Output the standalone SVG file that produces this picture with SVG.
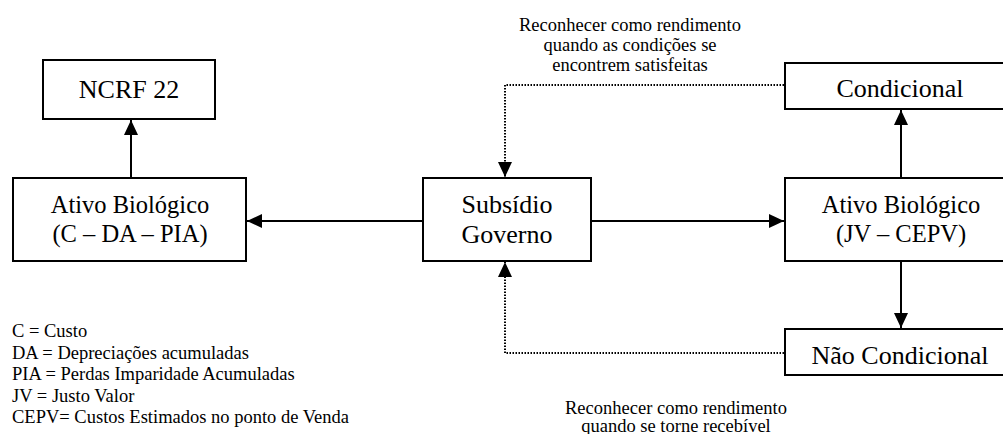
<svg xmlns="http://www.w3.org/2000/svg" width="1003" height="434" viewBox="0 0 1003 434">
<style>
.box{fill:#fff;stroke:#000;stroke-width:2}
text{font-family:'Liberation Serif',Tinos,'Times New Roman',Times,'DejaVu Serif','Noto Serif',serif;fill:#000}
.nt{font-size:26px;text-anchor:middle}
.nt2{font-size:24.5px;text-anchor:middle}
.lbl{font-size:18.5px;text-anchor:middle}
.leg{font-size:18.5px}
.solid{fill:none;stroke:#000;stroke-width:2;marker-end:url(#ah)}
.dot{fill:none;stroke:#000;stroke-width:2;stroke-dasharray:1.5 1.5;marker-end:url(#ah)}
</style>
<defs>
<marker id="ah" markerUnits="userSpaceOnUse" markerWidth="16" markerHeight="14" refX="15" refY="7" orient="auto">
<path d="M0,0 L15,7 L0,14 Z" fill="#000"/>
</marker>
</defs>
<rect width="1003" height="434" fill="#fff"/>
<g id="connectors">
<path class="solid" d="M131,178 V120"/>
<path class="solid" d="M423,221 H247"/>
<path class="solid" d="M591,221 H784"/>
<path class="solid" d="M901,178 V110"/>
<path class="solid" d="M901,261 V328"/>
<path class="dot" d="M784,85 H505 V177"/>
<path class="dot" d="M784,353 H505 V262"/>
</g>
<g id="ncrf22">
<rect class="box" x="43" y="60" width="172" height="59"/>
<text class="nt" x="129" y="98" font-family="Liberation Serif, serif">NCRF 22</text>
</g>
<g id="ativo-c">
<rect class="box" x="13" y="178" width="233" height="83"/>
<text class="nt2" x="130" y="213">Ativo Biológico</text>
<text class="nt2" x="130" y="242">(C – DA – PIA)</text>
</g>
<g id="subsidio">
<rect class="box" x="423" y="178" width="168" height="83"/>
<text class="nt" x="507" y="213">Subsídio</text>
<text class="nt" x="507" y="243">Governo</text>
</g>
<g id="ativo-jv">
<rect class="box" x="785" y="178" width="234" height="83"/>
<text class="nt2" x="901" y="213">Ativo Biológico</text>
<text class="nt2" x="901" y="242">(JV – CEPV)</text>
</g>
<g id="condicional">
<rect class="box" x="785" y="63" width="234" height="46"/>
<text class="nt" x="900" y="97">Condicional</text>
</g>
<g id="nao-condicional">
<rect class="box" x="785" y="329" width="234" height="46"/>
<text class="nt" x="900" y="364">Não Condicional</text>
</g>
<g id="label-top">
<text class="lbl" x="630" y="31">Reconhecer como rendimento</text>
<text class="lbl" x="630" y="51">quando as condições se</text>
<text class="lbl" x="630" y="71">encontrem satisfeitas</text>
</g>
<g id="label-bottom">
<text class="lbl" x="676" y="414">Reconhecer como rendimento</text>
<text class="lbl" x="676" y="432">quando se torne recebível</text>
</g>
<g id="legend">
<text class="leg" x="12" y="337">C = Custo</text>
<text class="leg" x="12" y="358.5">DA = Depreciações acumuladas</text>
<text class="leg" x="12" y="380">PIA = Perdas Imparidade Acumuladas</text>
<text class="leg" x="12" y="401.5">JV = Justo Valor</text>
<text class="leg" x="12" y="423">CEPV= Custos Estimados no ponto de Venda</text>
</g>
</svg>
